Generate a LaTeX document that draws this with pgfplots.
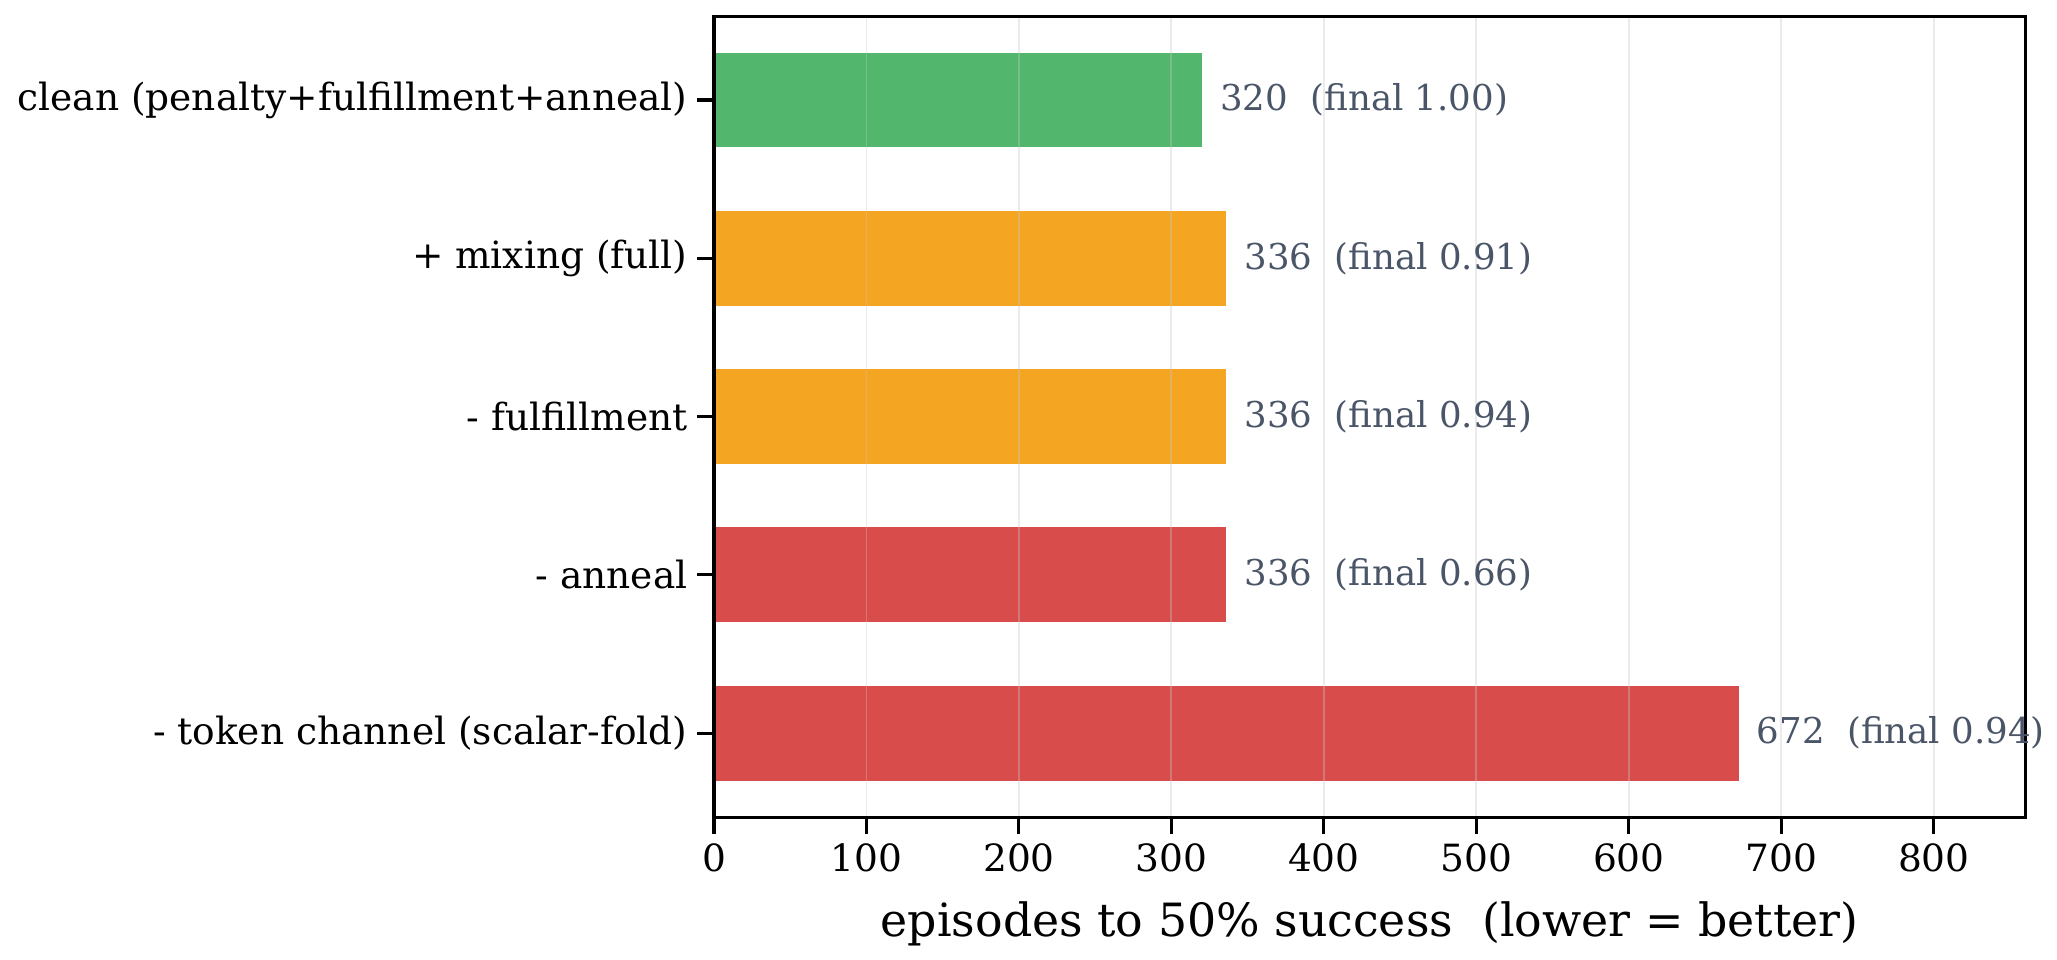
\documentclass[border=0pt]{standalone}
\usepackage{pgfplots}
\pgfplotsset{compat=1.18}
\usepackage{fontspec}
\setmainfont{DejaVu Serif}
\definecolor{cgreen}{RGB}{82,183,108}
\definecolor{corange}{RGB}{244,166,35}
\definecolor{cred}{RGB}{217,76,76}
\definecolor{annot}{RGB}{74,85,104}
\begin{document}
\begin{tikzpicture}
\begin{axis}[
  scale only axis, width=472pt, height=288.3pt,
  xmin=0, xmax=860, ymin=-0.53, ymax=4.53,
  xbar, bar width=0.6, bar shift=0pt,
  xtick={0,100,...,800},
  ytick={0,1,2,3,4},
  yticklabels={{- token channel (scalar-fold)},{- anneal},{- fulfillment},{+ mixing (full)},{clean (penalty+fulfillment+anneal)}},
  tick align=outside, xtick pos=bottom, ytick pos=left,
  major tick length=6pt,
  tick style={black, line width=1.1pt},
  axis line style={line width=1.1pt},
  xmajorgrids, ymajorgrids=false,
  major grid style={gray!45, opacity=0.35, line width=0.7pt},
  axis on top,
  tick label style={font=\fontsize{13.5}{16}\selectfont},
  /pgf/number format/assume math mode=true,
  xlabel={episodes to 50\% success\ \ (lower = better)},
  xlabel style={font=\fontsize{16.5}{19}\selectfont, at={(axis description cs:0.5,0)}, anchor=base, yshift=-43pt},
  nodes near coords, point meta=explicit symbolic,
  every node near coord/.append style={font=\fontsize{12.8}{16}\selectfont, color=annot, anchor=west, xshift=3pt},
  clip=false,
]
\addplot[fill=cgreen, draw=none] coordinates {(320,4) [{320\ \ (final 1.00)}]};
\addplot[fill=corange, draw=none] coordinates {(336,3) [{336\ \ (final 0.91)}]};
\addplot[fill=corange, draw=none] coordinates {(336,2) [{336\ \ (final 0.94)}]};
\addplot[fill=cred, draw=none] coordinates {(336,1) [{336\ \ (final 0.66)}]};
\addplot[fill=cred, draw=none] coordinates {(672,0) [{672\ \ (final 0.94)}]};
\end{axis}
\path ([shift={(-257pt,-51.1pt)}]current axis.south west) rectangle ([shift={(11.4pt,5.8pt)}]current axis.north east);
\end{tikzpicture}
\end{document}
